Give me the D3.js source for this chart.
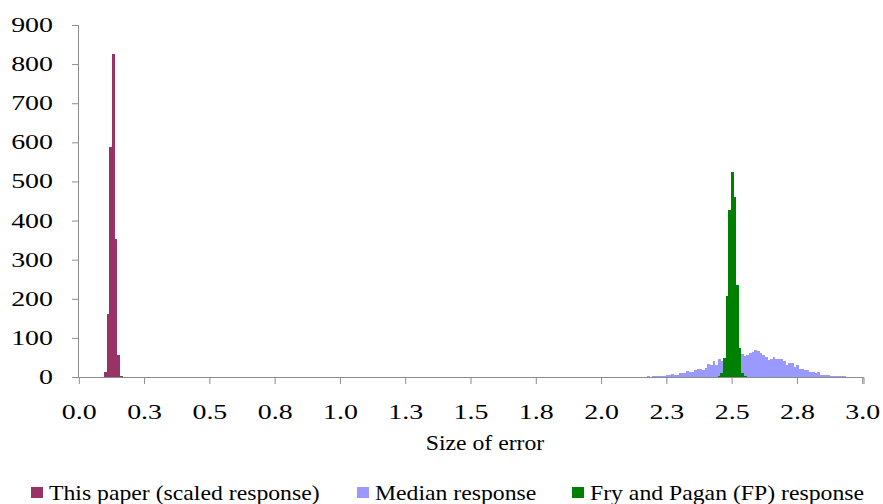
<!DOCTYPE html>
<html>
<head>
<meta charset="utf-8">
<script src="https://cdn.jsdelivr.net/npm/d3@7"></script>
<style>
  html, body { margin: 0; padding: 0; background: #fff; }
  svg { display: block; }
  text { font-family: "Liberation Serif", "Times New Roman", serif; fill: #000; }
</style>
</head>
<body>
<svg id="chart" width="883" height="504"></svg>
<script>
// ---- Data ----
// Categories: error size bins of 0.01 from 0.00 to 3.00
const categories = d3.range(0, 301).map(i => (i / 100).toFixed(2));
const xTickValues = ["0.00","0.25","0.50","0.75","1.00","1.25","1.50","1.75","2.00","2.25","2.50","2.75","3.00"];
const xTickLabels = ["0.0","0.3","0.5","0.8","1.0","1.3","1.5","1.8","2.0","2.3","2.5","2.8","3.0"];
const yTickValues = [0,100,200,300,400,500,600,700,800,900];

// This paper (scaled response): bins starting at 0.10
const paperStart = "0.10";
const paperCounts = [13,161,589,826,352,55,3];

// Median response: bins starting at 2.11
const medianStart = "2.11";
const medianCounts = [
  1,1,0,1,1,0,1,2,1,2,      // 2.11-2.20
  2,3,3,2,4,5,8,6,6,9,      // 2.21-2.30
  10,11,15,14,13,17,21,20,17,22, // 2.31-2.40
  32,30,41,30,47,42,43,45,48,50, // 2.41-2.50
  55,58,64,60,53,57,61,64,68,66, // 2.51-2.60
  62,55,52,44,47,50,45,46,45,41, // 2.61-2.70
  30,36,37,26,30,21,21,19,17,13, // 2.71-2.80
  13,9,14,6,6,4,4,3,3,3,    // 2.81-2.90
  2,2,2                     // 2.91-2.93
];

// Fry and Pagan (FP) response: bins starting at 2.45
const fpStart = "2.45";
const fpCounts = [3,10,48,207,427,525,461,235,75,10,3];

const seriesNames = ["This paper (scaled response)", "Median response", "Fry and Pagan (FP) response"];
const seriesColors = ["#993366", "#9999FF", "#008000"];

// ---- Helpers ----
function toPoints(start, counts) {
  const s = categories.indexOf(start);
  return counts.map((c, k) => ({ cat: categories[s + k], value: c }));
}

const svg = d3.select("#chart");
const plotLeft = 78, plotRight = 864, plotTop = 25, plotBottom = 377;

const x = d3.scaleBand().domain(categories).range([plotLeft, plotRight]).padding(0);
const y = d3.scaleLinear().domain([0, 900]).range([plotBottom, plotTop]);

const axisColor = "#8c8c8c";

// bars: median first, then paper, then FP on top
const drawOrder = [
  { pts: toPoints(medianStart, medianCounts), color: seriesColors[1] },
  { pts: toPoints(paperStart, paperCounts), color: seriesColors[0] },
  { pts: toPoints(fpStart, fpCounts), color: seriesColors[2] }
];
drawOrder.forEach(s => {
  svg.append("g").selectAll("rect").data(s.pts).enter().append("rect")
    .attr("x", d => x(d.cat))
    .attr("width", x.bandwidth() + 0.15)
    .attr("y", d => y(d.value))
    .attr("height", d => y(0) - y(d.value))
    .attr("fill", s.color)
    .attr("shape-rendering", "crispEdges");
});

// Y axis
const yAxis = d3.axisLeft(y).tickValues(yTickValues).tickSize(6).tickFormat("");
const gy = svg.append("g").attr("transform", `translate(${plotLeft},0)`).call(yAxis);
gy.select(".domain").attr("stroke", axisColor).attr("d", `M-6,${plotTop}.5H0.5V${plotBottom}`);
gy.selectAll(".tick line").attr("stroke", axisColor);

// Y labels (stretched serif)
const numScale = 1.33, txtScale = 1.13, fs = 21;
yTickValues.forEach(v => {
  svg.append("g").attr("transform", `translate(53,${y(v) + 7}) scale(${numScale},1)`)
    .append("text").attr("text-anchor", "end").attr("font-size", fs).text(v);
});

// X axis
const xAxis = d3.axisBottom(x).tickValues(xTickValues).tickSize(7).tickFormat("");
const gx = svg.append("g").attr("transform", `translate(0,${plotBottom})`).call(xAxis);
gx.select(".domain").attr("stroke", axisColor).attr("d", `M${plotLeft},0.5H${plotRight}V7`);
gx.selectAll(".tick line").attr("stroke", axisColor);

xTickValues.forEach((v, i) => {
  svg.append("g").attr("transform", `translate(${x(v) + x.bandwidth()/2},419) scale(${numScale},1)`)
    .append("text").attr("text-anchor", "middle").attr("font-size", fs).text(xTickLabels[i]);
});

// X title
svg.append("g").attr("transform", `translate(485,450) scale(${txtScale},1)`)
  .append("text").attr("text-anchor", "middle").attr("font-size", fs).text("Size of error");

// Legend
const legendX = [31, 357, 572];
seriesNames.forEach((name, i) => {
  svg.append("rect").attr("x", legendX[i]).attr("y", 487).attr("width", 12).attr("height", 11)
    .attr("fill", seriesColors[i]);
  svg.append("g").attr("transform", `translate(${legendX[i] + 18},500) scale(${txtScale},1)`)
    .append("text").attr("font-size", fs).text(name);
});
</script>
</body>
</html>
